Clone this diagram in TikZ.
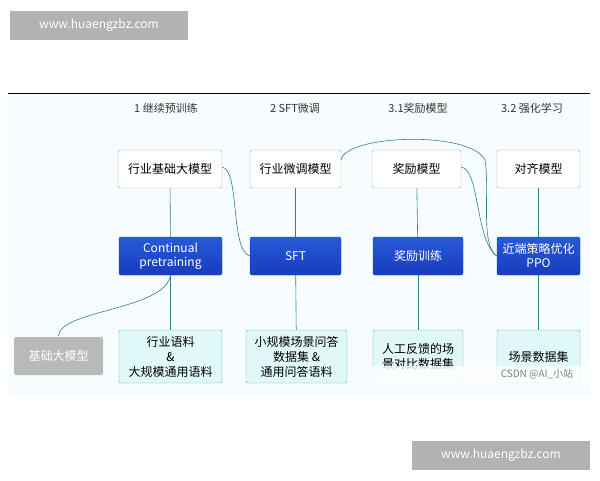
\documentclass[tikz,border=0pt]{standalone}
\usepackage{fontspec}
\setmainfont{Noto Sans CJK SC}
\definecolor{btop}{RGB}{40,90,215}
\definecolor{bbot}{RGB}{25,60,190}
\definecolor{aqua}{RGB}{225,248,248}
\begin{document}
\begin{tikzpicture}[x=1pt,y=-1pt,
 wbox/.style={draw=gray!70,fill=white,rounded corners=2pt,font=\fontsize{12}{14}\selectfont,inner sep=0pt},
 bbox/.style={draw=bbot,top color=btop,bottom color=bbot,rounded corners=2pt,text=white,font=\fontsize{12}{14}\selectfont,align=center,inner sep=0pt},
 dbox/.style={draw=cyan!50!gray,fill=aqua,rounded corners=2pt,font=\fontsize{12}{15}\selectfont,align=center,inner sep=0pt},
 hd/.style={font=\fontsize{11}{13}\selectfont,text=black!80},
 ln/.style={draw=teal!60!gray,line width=0.6pt},
 wm/.style={fill=gray!60,text=white,font=\fontsize{12}{14}\selectfont,inner sep=0pt}]
\useasboundingbox (0,0) rectangle (600,480);
\fill[white] (0,0) rectangle (600,480);
\fill[cyan!3] (8,96) rectangle (590,395);
\draw[line width=1pt] (8,93) -- (590,93);
\node[hd] (h1) at (166,108) {1 继续预训练};
\node[hd] (h2) at (295,108) {2 SFT微调};
\node[hd] (h3) at (418,108) {3.1奖励模型};
\node[hd] (h4) at (532,108) {3.2 强化学习};
\node[wbox,minimum width=104,minimum height=38] (t1) at (170,169) {行业基础大模型};
\node[wbox,minimum width=91,minimum height=38] (t2) at (295.5,169) {行业微调模型};
\node[wbox,minimum width=89,minimum height=38] (t3) at (416.5,169) {奖励模型};
\node[wbox,minimum width=83,minimum height=38] (t4) at (538.5,169) {对齐模型};
\node[bbox,minimum width=103,minimum height=38] (b1) at (170.5,256) {Continual\\pretraining};
\node[bbox,minimum width=91,minimum height=38] (b2) at (295.5,256) {SFT};
\node[bbox,minimum width=90,minimum height=38] (b3) at (418,256) {奖励训练};
\node[bbox,minimum width=83,minimum height=38] (b4) at (538.5,256) {近端策略优化\\PPO};
\node[dbox,minimum width=103,minimum height=53] (d1) at (170.5,356.5) {行业语料\\\&\\大规模通用语料};
\node[dbox,minimum width=101,minimum height=53] (d2) at (296.5,356.5) {小规模场景问答\\数据集 \&\\通用问答语料};
\node[dbox,minimum width=90,minimum height=53] (d3) at (418,356.5) {人工反馈的场\\景对比数据集};
\node[dbox,minimum width=83,minimum height=53] (d4) at (538.5,356.5) {场景数据集};
\node[fill=gray!55,rounded corners=2pt,minimum width=89,minimum height=38,text=white,font=\fontsize{12}{14}\selectfont] (g) at (58.5,356) {基础大模型};
\foreach \i in {1,2,3,4}{\draw[ln] (t\i) -- (b\i); \draw[ln] (b\i) -- (d\i);}
\draw[ln] (t1.east) ++(0,-2) .. controls (240,170) and (230,250) .. (b2.west);
\draw[ln] (t2.north east) ++(0,10) .. controls (345,135) and (470,130) .. (485,160) .. controls (490,190) and (480,245) .. (b4.west);
\draw[ln] (t3.east) ++(0,-2) .. controls (480,170) and (475,240) .. (b4.west);
\draw[ln] (g.north) ++(0,-1) .. controls (60,310) and (165,310) .. (b1.south);
\fill[white,opacity=0.8] (372,366) rectangle (590,384);
\node[text=gray,font=\fontsize{10}{12}\selectfont] (csdn) at (537,374) {CSDN @AI\_小站};
\node[wm,minimum width=178,minimum height=29] (w1) at (99,25) {www.huaengzbz.com};
\node[wm,minimum width=178,minimum height=29] (w2) at (501,455) {www.huaengzbz.com};
\end{tikzpicture}
\end{document}
